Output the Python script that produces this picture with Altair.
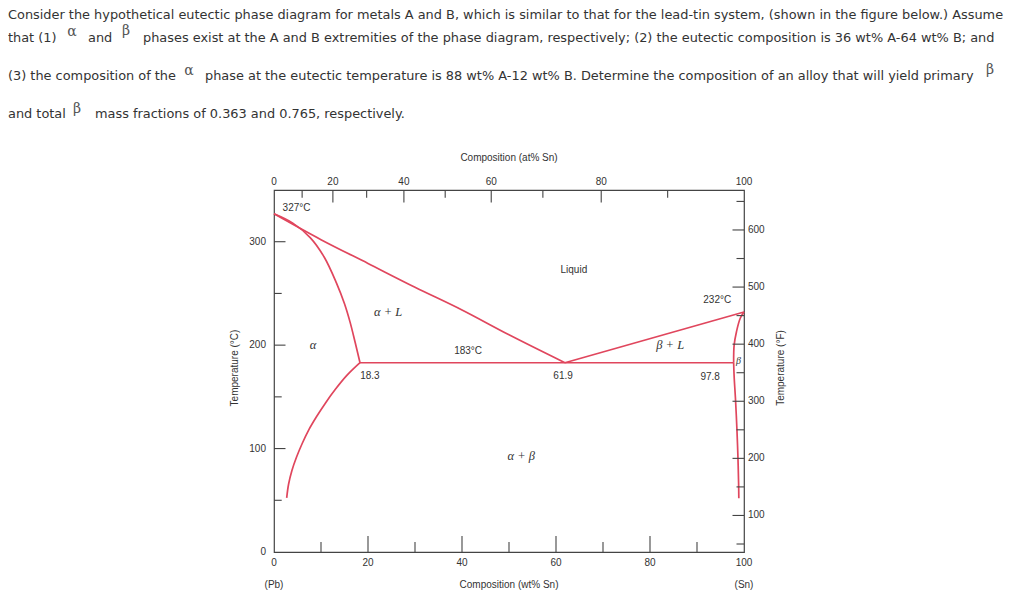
import altair as alt
import pandas as pd

# ---------------- text of the problem ----------------
line1 = "Consider the hypothetical eutectic phase diagram for metals A and B, which is similar to that for the lead-tin system, (shown in the figure below.) Assume"
line2a = "that (1)"
line2b = "and"
line2c = "phases exist at the A and B extremities of the phase diagram, respectively; (2) the eutectic composition is 36 wt% A-64 wt% B; and"
line3a = "(3) the composition of the"
line3b = "phase at the eutectic temperature is 88 wt% A-12 wt% B. Determine the composition of an alloy that will yield primary"
line4a = "and total"
line4b = "mass fractions of 0.363 and 0.765, respectively."

# ---------------- phase boundaries (wt% Sn, deg C) ----------------
liq_left_x = [0, 10, 20, 30, 40, 50, 61.9]
liq_left_t = [327, 302, 279, 256, 234, 210, 183]
sol_alpha_x = [0, 4, 7.7, 10.7, 13.3, 15, 16.2, 17.3, 18.3]
sol_alpha_t = [327, 318, 304, 285, 260, 240, 222, 202, 183]
solv_alpha_x = [18.3, 15.5, 13.1, 11.0, 9.1, 7.4, 6.0, 4.8, 3.8, 3.1, 2.7]
solv_alpha_t = [183, 170.7, 157.5, 144.4, 131.2, 118.1, 104.9, 91.8, 78.6, 65.5, 52.3]
eut_x = [18.3, 97.8]
eut_t = [183, 183]
liq_right_x = [61.9, 100]
liq_right_t = [183, 232]
sol_beta_x = [100, 99.2, 98.4, 97.9, 97.8]
sol_beta_t = [232, 226, 213, 200, 183]
solv_beta_x = [97.8, 97.9, 98.2, 98.5, 98.7, 98.85, 98.9]
solv_beta_t = [183, 170, 147, 118, 93, 67, 52]

# ---------------- axes ----------------
wt_labels = [0, 20, 40, 60, 80, 100]
wt_major = [20, 40, 60, 80]
wt_minor = [10, 30, 50, 70, 90]
at_labels = [0, 20, 40, 60, 80, 100]
at_major = [20, 40, 60, 80]
at_minor = [10, 30, 50, 70, 90]
c_labels = [0, 100, 200, 300]
c_major = [100, 200, 300]
c_minor = [50, 150, 250]
f_labels = [100, 200, 300, 400, 500, 600]
f_major = [100, 200, 300, 400, 500, 600]
f_minor = [50, 150, 250, 350, 450, 550, 650]

# ---------------- annotations ----------------
sans_text = ["327°C", "Liquid", "183°C", "232°C", "18.3", "61.9", "97.8"]
sans_x = [4.8, 63.8, 41.3, 94.3, 20.4, 61.5, 92.8]
sans_t = [333, 273, 194.6, 244, 170.6, 170.6, 169.6]
phase_text = ["α + L", "α", "β + L", "α + β"]
phase_x = [24.3, 8.3, 84.3, 52.6]
phase_t = [232.5, 200.6, 199.7, 93.2]
beta_small_x = [98.8]
beta_small_t = [184.4]

RED = "#E0465D"
AX = "#444444"
TXT = "#333333"
W, H = 470, 362

xs = alt.Scale(domain=[0, 100], nice=False, zero=False)
ys = alt.Scale(domain=[0, 350], nice=False, zero=False)
fs = alt.Scale(domain=[36, 670], nice=False, zero=False)

curves = []
for name, cx, ct in [("liq_l", liq_left_x, liq_left_t), ("sol_a", sol_alpha_x, sol_alpha_t),
                     ("solv_a", solv_alpha_x, solv_alpha_t), ("eut", eut_x, eut_t),
                     ("liq_r", liq_right_x, liq_right_t), ("sol_b", sol_beta_x, sol_beta_t),
                     ("solv_b", solv_beta_x, solv_beta_t)]:
    for i, (a, b) in enumerate(zip(cx, ct)):
        curves.append({"curve": name, "i": i, "x": a, "t": b})
curves_df = pd.DataFrame(curves)

lines = alt.Chart(curves_df).mark_line(color=RED, strokeWidth=1.7, interpolate="catmull-rom").encode(
    x=alt.X("x:Q", scale=xs, axis=None),
    y=alt.Y("t:Q", scale=ys, axis=None),
    detail="curve:N",
    order="i:Q",
)


def vdf(vals):
    return pd.DataFrame({"v": vals})


def xtick(vals, length, top=False):
    base = alt.Chart(vdf(vals)).mark_rule(color=AX, strokeWidth=1.1)
    if top:
        return base.transform_calculate(
            w="datum.v*118.71/(datum.v*118.71+(100-datum.v)*207.2)*100"
        ).encode(x=alt.X("w:Q", scale=xs, axis=None), y=alt.value(0), y2=alt.value(length))
    return base.encode(x=alt.X("v:Q", scale=xs, axis=None), y=alt.value(H), y2=alt.value(H - length))


def ytick(vals, length, scale, right=False):
    base = alt.Chart(vdf(vals)).mark_rule(color=AX, strokeWidth=1.1)
    if right:
        return base.encode(y=alt.Y("v:Q", scale=scale, axis=None), x=alt.value(W), x2=alt.value(W - length))
    return base.encode(y=alt.Y("v:Q", scale=scale, axis=None), x=alt.value(0), x2=alt.value(length))


def label_font(**kw):
    d = dict(font="Liberation Sans", fontSize=10, color=TXT)
    d.update(kw)
    return d


bottom_labels = alt.Chart(vdf(wt_labels)).mark_text(**label_font(baseline="middle")).encode(
    x=alt.X("v:Q", scale=xs, axis=None), y=alt.value(373), text="v:Q")
top_labels = alt.Chart(vdf(at_labels)).transform_calculate(
    w="datum.v*118.71/(datum.v*118.71+(100-datum.v)*207.2)*100"
).mark_text(**label_font(baseline="middle")).encode(
    x=alt.X("w:Q", scale=xs, axis=None), y=alt.value(-8), text="v:Q")
left_labels = alt.Chart(vdf(c_labels)).mark_text(**label_font(baseline="middle", align="right")).encode(
    y=alt.Y("v:Q", scale=ys, axis=None), x=alt.value(-8), text="v:Q")
right_labels = alt.Chart(vdf(f_labels)).mark_text(**label_font(baseline="middle", align="left")).encode(
    y=alt.Y("v:Q", scale=fs, axis=None), x=alt.value(474), text="v:Q")

one = pd.DataFrame({"a": [0]})


def ptxt(text, x, y, **kw):
    return alt.Chart(one).mark_text(text=text, **kw).encode(x=alt.value(x), y=alt.value(y))


titles = [
    alt.Chart(one).mark_text(text="Composition (at% Sn)", **label_font(baseline="middle")).encode(
        x=alt.X(datum=50, scale=xs), y=alt.value(-32)),
    alt.Chart(one).mark_text(text="Composition (wt% Sn)", **label_font(baseline="middle")).encode(
        x=alt.X(datum=50, scale=xs), y=alt.value(395)),
    alt.Chart(one).mark_text(text="(Pb)", **label_font(baseline="middle")).encode(
        x=alt.X(datum=0, scale=xs), y=alt.value(395)),
    alt.Chart(one).mark_text(text="(Sn)", **label_font(baseline="middle")).encode(
        x=alt.X(datum=100, scale=xs), y=alt.value(395)),
    ptxt("Temperature (°C)", -39, 178, angle=270, **label_font(baseline="middle")),
    ptxt("Temperature (°F)", 507, 178, angle=270, **label_font(baseline="middle")),
]

sans_df = pd.DataFrame({"x": sans_x, "t": sans_t, "s": sans_text})
sans = alt.Chart(sans_df).mark_text(**label_font(baseline="middle")).encode(
    x=alt.X("x:Q", scale=xs, axis=None), y=alt.Y("t:Q", scale=ys, axis=None), text="s:N")
phase_df = pd.DataFrame({"x": phase_x, "t": phase_t, "s": phase_text})
phases = alt.Chart(phase_df).mark_text(font="Liberation Serif", fontStyle="italic", fontSize=12.5,
                                       color=TXT, baseline="middle").encode(
    x=alt.X("x:Q", scale=xs, axis=None), y=alt.Y("t:Q", scale=ys, axis=None), text="s:N")
beta_small = alt.Chart(pd.DataFrame({"x": beta_small_x, "t": beta_small_t})).mark_text(
    text="β", font="Liberation Serif", fontStyle="italic", fontSize=10, color=TXT, baseline="middle").encode(
    x=alt.X("x:Q", scale=xs, axis=None), y=alt.Y("t:Q", scale=ys, axis=None))

# paragraph (plot origin is at page x=274, y=190.4)
OX, OY = 274, 190.4
PF = dict(font="DejaVu Sans", fontSize=12.9, color=TXT, baseline="middle", align="left")
GF = dict(font="DejaVu Serif", fontSize=14, color="#555555", baseline="middle", align="center")
para = [
    ptxt(line1, 8 - OX, 15 - OY, **PF),
    ptxt(line2a, 8 - OX, 38 - OY, **PF),
    ptxt("α", 72 - OX, 32 - OY, **GF),
    ptxt(line2b, 88 - OX, 38 - OY, **PF),
    ptxt("β", 126 - OX, 31 - OY, **GF),
    ptxt(line2c, 143 - OX, 38 - OY, **PF),
    ptxt(line3a, 8 - OX, 76 - OY, **PF),
    ptxt("α", 189 - OX, 71 - OY, **GF),
    ptxt(line3b, 205 - OX, 76 - OY, **PF),
    ptxt("β", 990 - OX, 70 - OY, **GF),
    ptxt(line4a, 8 - OX, 114 - OY, **PF),
    ptxt("β", 77 - OX, 109 - OY, **GF),
    ptxt(line4b, 95 - OX, 114 - OY, **PF),
]

c_group = alt.layer(
    xtick(wt_major, 16), xtick(wt_minor, 10),
    xtick(at_major, 12.5, top=True), xtick(at_minor, 7.8, top=True),
    ytick(c_major, 11.5, ys), ytick(c_minor, 7.7, ys),
    lines, sans, phases, beta_small,
    bottom_labels, top_labels, left_labels,
    *titles, *para,
)
f_group = alt.layer(
    ytick(f_major, 11.5, fs, right=True), ytick(f_minor, 7.5, fs, right=True), right_labels
)

chart = alt.layer(c_group, f_group).resolve_scale(y="independent").properties(
    width=W, height=H,
    padding={"left": 266, "top": 182, "right": 268, "bottom": 38},
    autosize=alt.AutoSizeParams(type="none"),
).configure_view(stroke=AX, strokeWidth=1.2)

chart.save("out.html", embed_options={"renderer": "svg", "actions": False})
